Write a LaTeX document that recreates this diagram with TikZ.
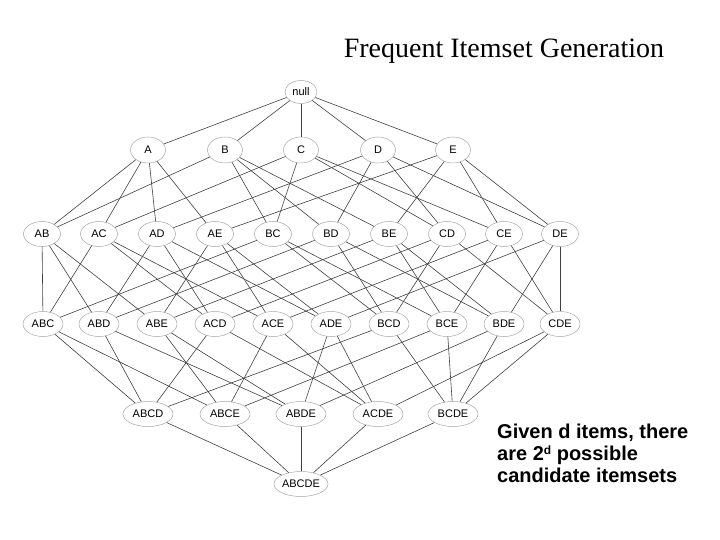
\documentclass[tikz,border=0pt]{standalone}
\usepackage{fontspec}
\setmainfont{Liberation Serif}
\newfontfamily\arialfont{Liberation Sans}
\usetikzlibrary{shapes.geometric}
\tikzset{
  set/.style={ellipse, draw=black!35, line width=0.5pt, inner sep=0pt,
    minimum height=25pt, font=\arialfont\fontsize{11}{13}\selectfont},
  lv0/.style={set, minimum width=32pt, minimum height=23pt},
  lv1/.style={set, minimum width=35pt, minimum height=26pt},
  lv2/.style={set, minimum width=37pt},
  lv3/.style={set, minimum width=40pt},
  lv4/.style={set, minimum width=50pt},
  lv5/.style={set, minimum width=54pt},
  link/.style={draw=black!75, line width=0.6pt}
}
\begin{document}
\begin{tikzpicture}[x=1pt,y=-1pt]
\useasboundingbox (0,0) rectangle (720,540);
\node[font=\fontsize{28}{32}\selectfont, anchor=base] (title) at (504,58) {Frequent Itemset Generation};
% level 0
\node[lv0] (null) at (301,92) {null};
% level 1
\foreach \n/\x in {A/148,B/225,C/301,D/378,E/453}
  \node[lv1] (\n) at (\x,150) {\n};
% level 2
\foreach \n/\x in {AB/42,AC/99,AD/157,AE/215,BC/273,BD/331,BE/389,CD/447,CE/504,DE/560}
  \node[lv2] (\n) at (\x,234) {\n};
% level 3
\foreach \n/\x in {ABC/43,ABD/99,ABE/157,ACD/215,ACE/273,ADE/331,BCD/389,BCE/447,BDE/504,CDE/560}
  \node[lv3] (\n) at (\x,324) {\n};
% level 4
\foreach \n/\x in {ABCD/148,ABCE/225,ABDE/301,ACDE/378,BCDE/453}
  \node[lv4] (\n) at (\x,414) {\n};
% level 5
\node[lv5] (ABCDE) at (301,484) {ABCDE};
% edges
\foreach \c in {A,B,C,D,E} \draw[link] (null) -- (\c);
\foreach \p/\cs in {AB/{A,B},AC/{A,C},AD/{A,D},AE/{A,E},BC/{B,C},BD/{B,D},BE/{B,E},CD/{C,D},CE/{C,E},DE/{D,E},
  ABC/{AB,AC,BC},ABD/{AB,AD,BD},ABE/{AB,AE,BE},ACD/{AC,AD,CD},ACE/{AC,AE,CE},ADE/{AD,AE,DE},BCD/{BC,BD,CD},BCE/{BC,BE,CE},BDE/{BD,BE,DE},CDE/{CD,CE,DE},
  ABCD/{ABC,ABD,ACD,BCD},ABCE/{ABC,ABE,ACE,BCE},ABDE/{ABD,ABE,ADE,BDE},ACDE/{ACD,ACE,ADE,CDE},BCDE/{BCD,BCE,BDE,CDE},
  ABCDE/{ABCD,ABCE,ABDE,ACDE,BCDE}}
  \foreach \c in \cs \draw[link] (\c) -- (\p);
% caption
\node[anchor=north west, align=left, inner sep=0pt, font=\arialfont\bfseries\fontsize{20}{22}\selectfont] (note) at (497,424)
  {Given d items, there\\are 2{\fontsize{12}{12}\selectfont\raisebox{6pt}{d}} possible\\candidate itemsets};
\end{tikzpicture}
\end{document}
